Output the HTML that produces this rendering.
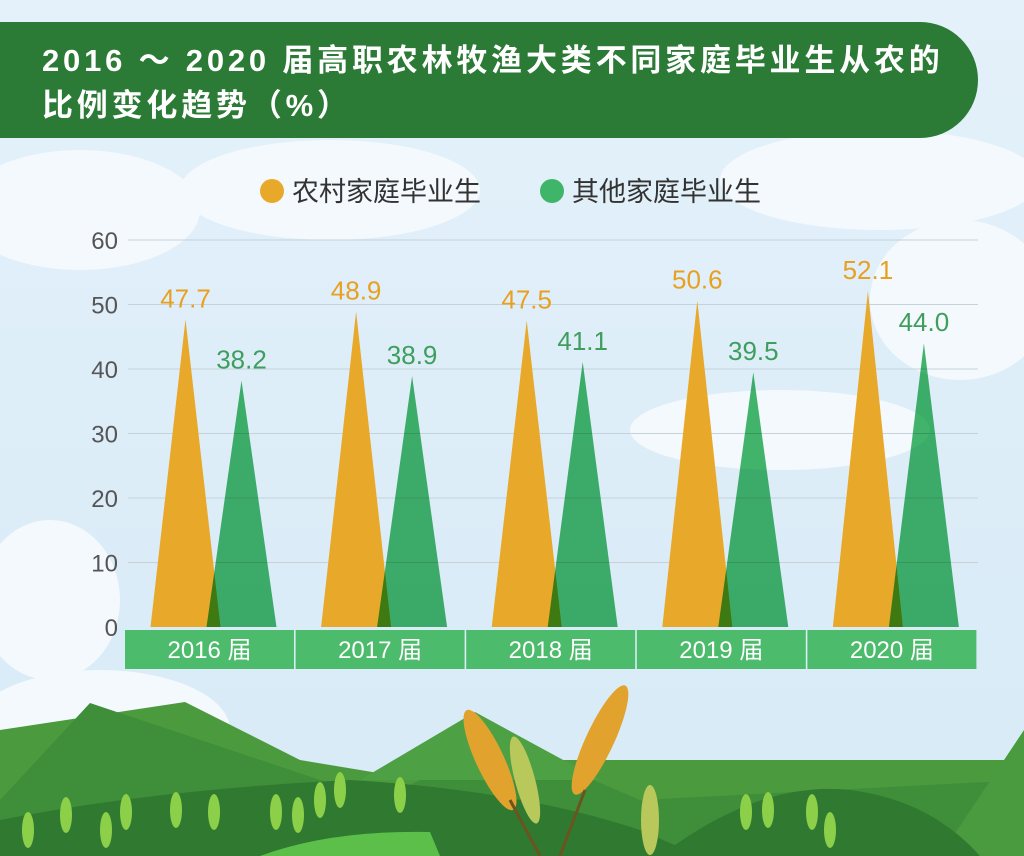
<!DOCTYPE html>
<html><head><meta charset="utf-8"><style>
body{margin:0;width:1024px;height:856px;overflow:hidden;background:#dfeef8;font-family:"Liberation Sans","Noto Sans CJK SC",sans-serif}
</style></head><body>
<svg id="c" width="1024" height="856" viewBox="0 0 1024 856" style="position:absolute;left:0;top:0">
<defs><linearGradient id="sky" x1="0" y1="0" x2="0" y2="1"><stop offset="0" stop-color="#e4f1fa"/><stop offset="1" stop-color="#d6eaf6"/></linearGradient></defs>
<rect width="1024" height="856" fill="url(#sky)"/>
<g fill="#f4f9fd">
<ellipse cx="80" cy="210" rx="120" ry="60"/><ellipse cx="330" cy="190" rx="150" ry="50"/><ellipse cx="960" cy="300" rx="90" ry="80"/>
<ellipse cx="780" cy="430" rx="150" ry="40"/><ellipse cx="50" cy="600" rx="70" ry="80"/><ellipse cx="100" cy="730" rx="130" ry="60"/><ellipse cx="880" cy="180" rx="160" ry="50"/>
</g>
<path d="M0 22 H920 A58 58 0 0 1 920 138 H0 Z" fill="#2b7a35"/>
<text x="42" y="71" fill="#fff" font-size="31" font-weight="bold" letter-spacing="3.8">2016 ～ 2020 届高职农林牧渔大类不同家庭毕业生从农的</text>
<text x="42" y="116" fill="#fff" font-size="31" font-weight="bold" letter-spacing="3.8">比例变化趋势（%）</text>
<circle cx="272" cy="191" r="12" fill="#e8a82a"/>
<text x="292" y="201" font-size="27" fill="#333">农村家庭毕业生</text>
<circle cx="552" cy="191" r="12" fill="#3fb56a"/>
<text x="572" y="201" font-size="27" fill="#333">其他家庭毕业生</text>
<g id="grid"></g><g id="marks"></g><g id="cats"></g>
<g>
<polygon points="0,730 185,702 300,760 420,780 470,720 520,760 1024,760 1024,856 0,856" fill="#4c9a3e"/>
<polygon points="0,800 90,703 380,800 500,740 640,800 1024,780 1024,856 0,856" fill="#3f8f3a"/>
<polygon points="360,780 475,712 600,780" fill="#4ea044"/>
<polygon points="940,856 1024,730 1024,856" fill="#4a9b40"/>
<path d="M0 856 V820 Q150 790 350 780 Q520 790 640 830 L700 856Z" fill="#2f7a30"/>
<path d="M660 856 Q760 780 850 790 Q930 800 980 856Z" fill="#2f7a30"/>
<path d="M260 856 Q330 830 430 832 L440 856Z" fill="#5cbf4a"/>
<g fill="#8cd04a">
<ellipse cx="28" cy="830" rx="6" ry="18"/><ellipse cx="66" cy="815" rx="6" ry="18"/><ellipse cx="106" cy="830" rx="6" ry="18"/><ellipse cx="126" cy="812" rx="6" ry="18"/>
<ellipse cx="176" cy="810" rx="6" ry="18"/><ellipse cx="214" cy="812" rx="6" ry="18"/><ellipse cx="276" cy="812" rx="6" ry="18"/><ellipse cx="298" cy="815" rx="6" ry="18"/>
<ellipse cx="320" cy="800" rx="6" ry="18"/><ellipse cx="340" cy="790" rx="6" ry="18"/><ellipse cx="400" cy="795" rx="6" ry="18"/>
<ellipse cx="746" cy="812" rx="6" ry="18"/><ellipse cx="768" cy="810" rx="6" ry="18"/><ellipse cx="812" cy="812" rx="6" ry="18"/><ellipse cx="830" cy="830" rx="6" ry="18"/>
</g>
<g fill="#e2a22e"><ellipse cx="490" cy="760" rx="14" ry="55" transform="rotate(-25 490 760)"/><ellipse cx="600" cy="740" rx="14" ry="60" transform="rotate(25 600 740)"/></g>
<g fill="#b8c85a"><ellipse cx="525" cy="780" rx="10" ry="45" transform="rotate(-15 525 780)"/><ellipse cx="650" cy="820" rx="9" ry="35"/></g>
<g stroke="#6b5420" stroke-width="3"><line x1="510" y1="800" x2="540" y2="856"/><line x1="585" y1="790" x2="560" y2="856"/></g>
</g>
</svg>
<script>
const categories=["2016 届","2017 届","2018 届","2019 届","2020 届"];
const ruralValues=[47.7,48.9,47.5,50.6,52.1];
const otherValues=[38.2,38.9,41.1,39.5,44.0];
const yTicks=[0,10,20,30,40,50,60];
const NS="http://www.w3.org/2000/svg";
const y0=627,yTop=240,yMax=60;
const yScale=v=>y0-(v/yMax)*(y0-yTop);
const bandX=i=>125+i*170.6;
const bandW=169;
function el(tag,attrs,parent,txt){const e=document.createElementNS(NS,tag);for(const k in attrs)e.setAttribute(k,attrs[k]);if(txt!==undefined)e.textContent=txt;parent.appendChild(e);return e;}
const grid=document.getElementById('grid'),marks=document.getElementById('marks'),cats=document.getElementById('cats');
yTicks.forEach(t=>{
 const y=yScale(t);
 if(t>0){const l=el('line',{x1:128,x2:978,y1:y,y2:y,stroke:'#c5d2da','stroke-width':1},grid);
 
 }
 const tx=el('text',{x:118,y:y+9,'text-anchor':'end','font-size':24,fill:'#555'},grid,String(t));
 
 
});
categories.forEach((c,i)=>{
 const cx=bandX(i)+bandW/2;
 const ox=cx-24,gx=cx+32,hw=35;
 const o=el('polygon',{points:`${ox-hw},${y0} ${ox},${yScale(ruralValues[i])} ${ox+hw},${y0}`,fill:'#e8a82a'},marks);
 
 
 const g=el('polygon',{points:`${gx-hw},${y0} ${gx},${yScale(otherValues[i])} ${gx+hw},${y0}`,fill:'#45b86c',style:'mix-blend-mode:multiply'},marks);
 
 
 const lo=el('text',{x:ox,y:yScale(ruralValues[i])-12,'text-anchor':'middle','font-size':26,fill:'#e8a020'},marks,ruralValues[i].toFixed(1));
 
 
 const lg=el('text',{x:gx,y:yScale(otherValues[i])-12,'text-anchor':'middle','font-size':26,fill:'#3f9e5e'},marks,otherValues[i].toFixed(1));
 
 
 const r=el('rect',{x:bandX(i),y:630,width:bandW,height:39,fill:'#4cbb6b'},cats);
 
 
 const t=el('text',{x:cx,y:658,'text-anchor':'middle','font-size':24,fill:'#fff'},cats,c);
 
 
});
</script>
</body></html>
